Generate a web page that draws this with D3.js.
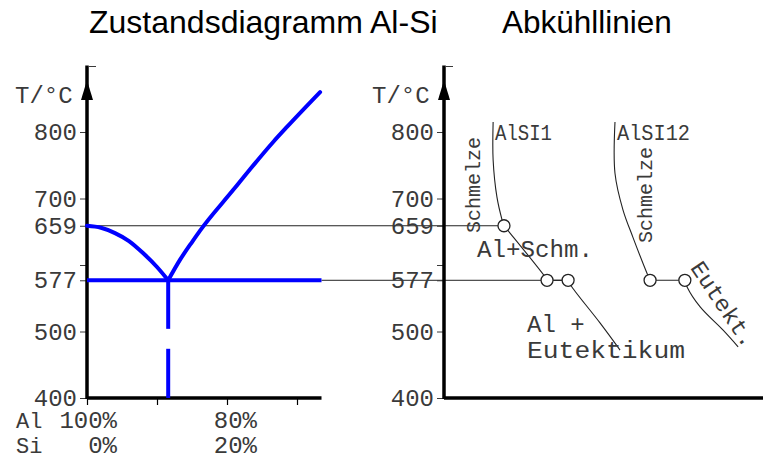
<!DOCTYPE html>
<html>
<head>
<meta charset="utf-8">
<script src="https://cdn.jsdelivr.net/npm/d3@7"></script>
<style>
  body { margin: 0; background: #fff; }
  svg { display: block; }
</style>
</head>
<body>
<div id="chart"></div>
<script>
// temperatures (°C) and compositions (% Si)
const tempTicks = [400, 500, 577, 600, 659, 700, 800];
const tempLabels = ["400", "500", "577", "", "659", "700", "800"];
const siTicks = [0, 10, 20, 30];
const compTicks = [0, 20];
const alLabels = ["100%", "80%"];
const siLabels = ["0%", "20%"];

const meltAl = 659;
const eutT = 577;
const eutSi = 11.6;
const siMax = 33.5;

// liquidus lines of the phase diagram
const liquidusAl = [[0, 659], [2, 656], [4, 648], [6, 636], [8, 618], [10, 597], [11.6, 577]];
const liquidusSi = [[11.6, 577], [13.3, 608], [15.1, 636], [16.1, 651], [20.9, 713],
                    [23.3, 744], [26.6, 785], [28.6, 808], [33.3, 860]];
const eutDashes = [[577, 504], [474, 400]];

// cooling curves, time in arbitrary units
const alsi1Melt = [[15.4, 815], [15.4, 758], [16.6, 702], [18.2, 668], [18.8, 659]];
const alsi1Mush = [[18.8, 659], [20.7, 648], [31.7, 582], [32.3, 577]];
const alsi1Hold = [[32.3, 577], [38.9, 577]];
const alsi1Solid = [[38.9, 577], [40.1, 567], [48.9, 513], [55.2, 472]];
const alsi12Melt = [[53.6, 815], [53.6, 738], [56.1, 683], [59.2, 642], [63.6, 588], [64.6, 577]];
const alsi12Hold = [[64.6, 577], [75.5, 577]];
const alsi12Solid = [[75.5, 577], [76.2, 567], [80.3, 537], [87.5, 502], [92.2, 477]];
const arrests = [[18.8, 659], [32.3, 577], [38.9, 577], [64.6, 577], [75.5, 577]];

const W = 763, H = 461;
const cad = "'Liberation Mono', 'DejaVu Sans Mono', monospace";
const ink = "#3a3a3a";

const svg = d3.select("#chart").append("svg")
  .attr("width", W)
  .attr("height", H);

const y = d3.scaleLinear().domain([400, 800]).range([398, 132]);
const x = d3.scaleLinear().domain([0, 30]).range([87, 297]);
const t = d3.scaleLinear().domain([0, 100]).range([444, 763]);

// titles
svg.append("text")
  .attr("x", 89).attr("y", 33)
  .attr("font-family", "'Liberation Sans', Arial, sans-serif")
  .attr("font-size", 32)
  .text("Zustandsdiagramm Al-Si");
svg.append("text")
  .attr("x", 502).attr("y", 33)
  .attr("font-family", "'Liberation Sans', Arial, sans-serif")
  .attr("font-size", 31.5)
  .text("Abkühllinien");

// thin connecting lines at 659 and 577
svg.append("line")
  .attr("x1", x(0)).attr("x2", t(arrests[0][0]))
  .attr("y1", y(meltAl)).attr("y2", y(meltAl))
  .attr("stroke", "#222").attr("stroke-width", 1);
svg.append("line")
  .attr("x1", x(siMax)).attr("x2", t(arrests[2][0]))
  .attr("y1", y(eutT)).attr("y2", y(eutT))
  .attr("stroke", "#222").attr("stroke-width", 1);

function tempAxis(x0) {
  const g = svg.append("g")
    .attr("transform", `translate(${x0},0)`)
    .call(d3.axisLeft(y).tickValues(tempTicks)
      .tickFormat((d, i) => tempLabels[i])
      .tickSize(7).tickSizeOuter(0).tickPadding(3));
  g.select(".domain").remove();
  g.selectAll("line").attr("stroke", ink);
  g.selectAll("text")
    .attr("font-family", cad)
    .attr("font-size", 24)
    .attr("fill", ink);
  // axis line with arrow
  g.append("line")
    .attr("x1", 0).attr("x2", 0)
    .attr("y1", y(400) + 1).attr("y2", y(900))
    .attr("stroke", "#000").attr("stroke-width", 3.5);
  g.append("path")
    .attr("d", `M0,${y(878)} L-6,${y(848)} L6,${y(848)} Z`)
    .attr("fill", "#000");
  g.append("line")
    .attr("x1", 2).attr("x2", 9)
    .attr("y1", y(900) + 1).attr("y2", y(900) + 1)
    .attr("stroke", ink).attr("stroke-width", 1);
  g.append("text")
    .attr("x", -72).attr("y", y(855) + 8)
    .attr("text-anchor", "start")
    .attr("font-family", cad)
    .attr("font-size", 24)
    .attr("fill", ink)
    .text("T/°C");
}
tempAxis(x(0));
tempAxis(t(0));

// left bottom axis
const xg = svg.append("g")
  .attr("transform", `translate(0,${y(400)})`)
  .call(d3.axisBottom(x).tickValues(siTicks).tickFormat("").tickSize(7).tickSizeOuter(0));
xg.select(".domain").remove();
xg.selectAll("line").attr("stroke", "#000").attr("stroke-width", 1.2);
svg.append("line")
  .attr("x1", x(0)).attr("x2", x(siMax))
  .attr("y1", y(400)).attr("y2", y(400))
  .attr("stroke", "#000").attr("stroke-width", 3.5);

// right bottom axis
svg.append("line")
  .attr("x1", t(0)).attr("x2", t(100))
  .attr("y1", y(400)).attr("y2", y(400))
  .attr("stroke", "#000").attr("stroke-width", 3.5);

// composition labels
const compText = (label, rowY, arr) => {
  svg.append("text")
    .attr("x", 16).attr("y", rowY)
    .attr("font-family", cad).attr("font-size", 22).attr("fill", ink)
    .text(label);
  svg.selectAll(null)
    .data(compTicks)
    .enter().append("text")
    .attr("x", d => x(d) + 30)
    .attr("y", rowY)
    .attr("text-anchor", "end")
    .attr("font-family", cad).attr("font-size", 24).attr("fill", ink)
    .text((d, i) => arr[i]);
};
compText("Al", 428, alLabels);
compText("Si", 453, siLabels);

// phase diagram (blue)
const pdLine = d3.line().x(d => x(d[0])).y(d => y(d[1])).curve(d3.curveMonotoneX);
const blue = "#0000ff";
[liquidusAl, liquidusSi].forEach(pts => {
  svg.append("path")
    .attr("d", pdLine(pts))
    .attr("fill", "none")
    .attr("stroke", blue)
    .attr("stroke-width", 4)
    .attr("stroke-linecap", "round");
});
svg.append("line")
  .attr("x1", x(0)).attr("x2", x(siMax))
  .attr("y1", y(eutT)).attr("y2", y(eutT))
  .attr("stroke", blue).attr("stroke-width", 4);
svg.selectAll(null)
  .data(eutDashes)
  .enter().append("line")
  .attr("x1", x(eutSi)).attr("x2", x(eutSi))
  .attr("y1", d => y(d[0])).attr("y2", d => y(d[1]))
  .attr("stroke", blue).attr("stroke-width", 4);

// cooling curves
const ccLine = d3.line().x(d => t(d[0])).y(d => y(d[1])).curve(d3.curveCatmullRom);
[alsi1Melt, alsi1Mush, alsi1Hold, alsi1Solid, alsi12Melt, alsi12Hold, alsi12Solid].forEach(pts => {
  svg.append("path")
    .attr("d", ccLine(pts))
    .attr("fill", "none")
    .attr("stroke", "#222")
    .attr("stroke-width", 1.1);
});
svg.selectAll(null)
  .data(arrests)
  .enter().append("circle")
  .attr("cx", d => t(d[0]))
  .attr("cy", d => y(d[1]))
  .attr("r", 6)
  .attr("fill", "#fff")
  .attr("stroke", "#222")
  .attr("stroke-width", 1.3);

// annotations
const note = (txt, px, py, opts = {}) => {
  const el = svg.append("text")
    .attr("x", px).attr("y", py)
    .attr("font-family", cad)
    .attr("font-size", opts.size || 24)
    .attr("fill", ink)
    .text(txt);
  if (opts.len) el.attr("textLength", opts.len).attr("lengthAdjust", "spacingAndGlyphs");
  if (opts.rot !== undefined) {
    el.attr("text-anchor", "middle")
      .attr("dominant-baseline", "central")
      .attr("transform", `rotate(${opts.rot},${px},${py})`);
  }
  return el;
};
note("AlSI1", 495, 140, { size: 22, len: 57 });
note("AlSI12", 617, 140, { size: 22, len: 73 });
note("Schmelze", 474, 185, { size: 20, rot: -90, len: 96 });
note("Schmelze", 646, 195, { size: 20, rot: -90, len: 96 });
note("Al+Schm.", 477, 257, { len: 116 });
note("Al +", 527, 332);
note("Eutektikum", 527, 358, { len: 158 });
note("Eutekt.", 722, 305, { size: 23, rot: 56, len: 98 });
</script>
</body>
</html>
